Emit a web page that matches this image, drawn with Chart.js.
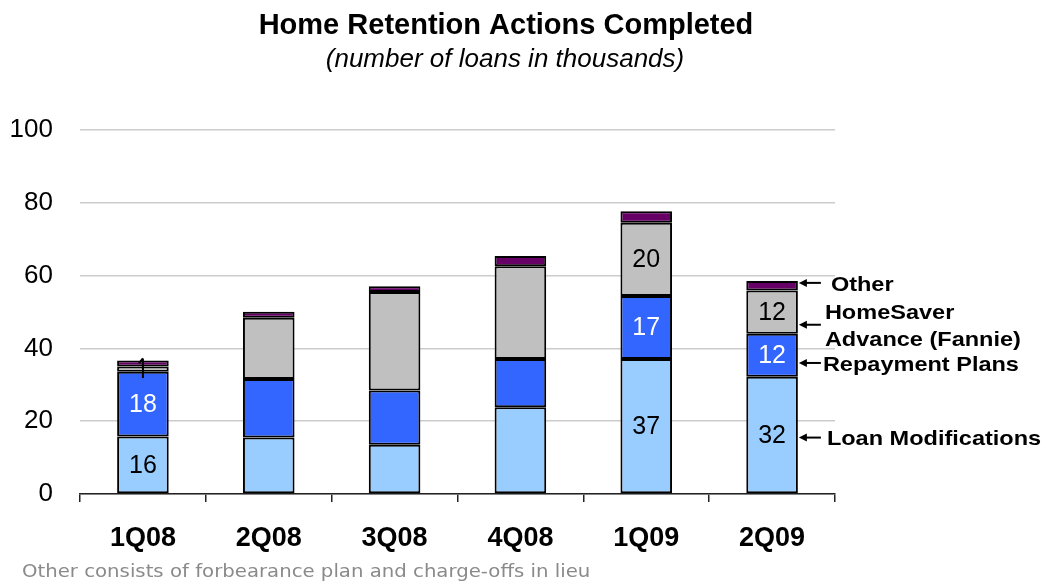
<!DOCTYPE html>
<html>
<head>
<meta charset="utf-8">
<script src="https://cdn.jsdelivr.net/npm/chart.js@4.4.0/dist/chart.umd.min.js"></script>
<style>
html, body { margin: 0; padding: 0; background: #fff; }
</style>
</head>
<body>
<canvas id="myChart" width="1045" height="584"></canvas>
<script>
// data (thousands of loans)
var quarters = ['1Q08', '2Q08', '3Q08', '4Q08', '1Q09', '2Q09']
var loan_mods = [15.8, 15.5, 13.5, 23.8, 37.1, 32.2]
var repayment = [17.8, 16.1, 14.9, 13.3, 17.3, 11.8]
var homesaver = [1.4, 16.8, 27.1, 25.5, 20.1, 11.9]
var other = [1.7, 1.7, 1.6, 2.8, 3.2, 2.6]
var y_ticks = [0, 20, 40, 60, 80, 100]

// which values get a number printed inside the bar
var loan_mods_shown = ['16', null, null, null, '37', '32']
var repayment_shown = ['18', null, null, null, '17', '12']
var homesaver_shown = [null, null, null, null, '20', '12']
var other_shown = [null, null, null, null, null, null]

// call-outs on the right of the last bar
var note_lines = [['Other'], ['HomeSaver', 'Advance (Fannie)'], ['Repayment Plans'], ['Loan Modifications']]
var note_values = [58, 46.5, 36, 15.5]
var note_dx = [10, 4, 2, 6]

var title_text = 'Home Retention Actions Completed'
var subtitle_text = '(number of loans in thousands)'
var footnote_text = 'Other consists of forbearance plan and charge-offs in lieu'

var FONT = '"Liberation Sans", Arial, sans-serif'

// text in the reference is a bit wider than the font, so stretch it sideways
function wide_text(ctx, txt, x, y, stretch) {
    ctx.save()
    ctx.translate(x, y)
    ctx.scale(stretch, 1)
    ctx.fillText(txt, 0, 0)
    ctx.restore()
}

const labelPlugin = {
    id: 'labelPlugin',
    afterDatasetsDraw(chart) {
        const ctx = chart.ctx
        const yScale = chart.scales.y
        ctx.save()
        ctx.textAlign = 'center'
        ctx.textBaseline = 'middle'
        ctx.font = '25px ' + FONT
        chart.data.datasets.forEach((ds, i) => {
            const meta = chart.getDatasetMeta(i)
            meta.data.forEach((bar, j) => {
                const txt = ds.shown[j]
                if (!txt) return
                ctx.fillStyle = ds.labelColor
                ctx.fillText(txt, bar.x, (bar.y + bar.base) / 2 + 1)
            })
        })

        // little leader mark on the first bar
        const first = chart.getDatasetMeta(3).data[0]
        const yLow = yScale.getPixelForValue(loan_mods[0] + repayment[0] - 1.7)
        const yTop = first.y - 2
        ctx.strokeStyle = '#000'
        ctx.lineWidth = 2
        ctx.beginPath()
        ctx.moveTo(first.x, yLow)
        ctx.lineTo(first.x, yTop)
        ctx.moveTo(first.x, yTop)
        ctx.lineTo(first.x - 4, yTop + 5)
        ctx.stroke()

        // arrows and call-out text next to the last bar
        const last = chart.getDatasetMeta(0).data[quarters.length - 1]
        const x0 = last.x + last.width / 2 + 1
        const x1 = x0 + 22
        ctx.font = 'bold 21px ' + FONT
        ctx.textAlign = 'left'
        ctx.fillStyle = '#000'
        note_values.forEach((v, k) => {
            const y = yScale.getPixelForValue(v)
            ctx.lineWidth = 2
            ctx.beginPath()
            ctx.moveTo(x0 + 6, y)
            ctx.lineTo(x1, y)
            ctx.stroke()
            ctx.beginPath()
            ctx.moveTo(x0, y)
            ctx.lineTo(x0 + 8, y - 4)
            ctx.lineTo(x0 + 8, y + 4)
            ctx.closePath()
            ctx.fill()
            const lines = note_lines[k]
            const gap = 27
            lines.forEach((t, n) => {
                const ty = y + (n - (lines.length - 1) / 2) * gap + 2
                wide_text(ctx, t, x1 + note_dx[k], ty, 1.12)
            })
        })

        // titles and footnote
        ctx.textAlign = 'center'
        ctx.font = 'bold 29px ' + FONT
        ctx.fillText(title_text, 506, 26)
        ctx.font = 'italic 26px ' + FONT
        ctx.fillText(subtitle_text, 505, 60)
        ctx.textAlign = 'left'
        ctx.font = '18px "DejaVu Sans", sans-serif'
        ctx.fillStyle = '#8a8a8a'
        wide_text(ctx, footnote_text, 22, 572, 1.095)
        ctx.restore()
    }
}

function make_set(label, values, shown, color, labelColor) {
    return {
        label: label,
        data: values,
        shown: shown,
        labelColor: labelColor,
        backgroundColor: color,
        borderColor: '#000',
        borderWidth: 2,
        borderSkipped: false,
        categoryPercentage: 1,
        barPercentage: 0.41
    }
}

const chart_data = {
    labels: quarters,
    datasets: [
        make_set('Loan Modifications', loan_mods, loan_mods_shown, '#99ccff', '#000'),
        make_set('Repayment Plans', repayment, repayment_shown, '#3366ff', '#fff'),
        make_set('HomeSaver Advance (Fannie)', homesaver, homesaver_shown, '#c0c0c0', '#000'),
        make_set('Other', other, other_shown, '#660066', '#fff')
    ]
}

const config = {
    type: 'bar',
    data: chart_data,
    plugins: [labelPlugin],
    options: {
        responsive: false,
        animation: false,
        devicePixelRatio: 1,
        layout: {
            padding: { left: 0, right: 210, top: 130, bottom: 0 }
        },
        plugins: {
            legend: { display: false },
            tooltip: { enabled: false }
        },
        scales: {
            x: {
                stacked: true,
                afterFit: scale => { scale.height = 90 },
                border: { display: true, color: '#222', width: 1.5 },
                grid: {
                    offset: true,
                    drawOnChartArea: false,
                    color: '#222',
                    tickLength: 8,
                    lineWidth: 1.5
                },
                ticks: {
                    color: '#000',
                    padding: 20,
                    font: { family: FONT, size: 27, weight: 'bold' }
                }
            },
            y: {
                stacked: true,
                min: 0,
                max: 100,
                afterFit: scale => { scale.width = 80 },
                afterBuildTicks: scale => {
                    scale.ticks = y_ticks.map(v => ({ value: v }))
                },
                border: { display: false },
                grid: {
                    color: '#cccccc',
                    lineWidth: 1.5,
                    drawTicks: false
                },
                ticks: {
                    color: '#000',
                    padding: 27,
                    font: { family: FONT, size: 26 }
                }
            }
        }
    }
}

var myChart = new Chart(document.getElementById('myChart'), config)
</script>
</body>
</html>
